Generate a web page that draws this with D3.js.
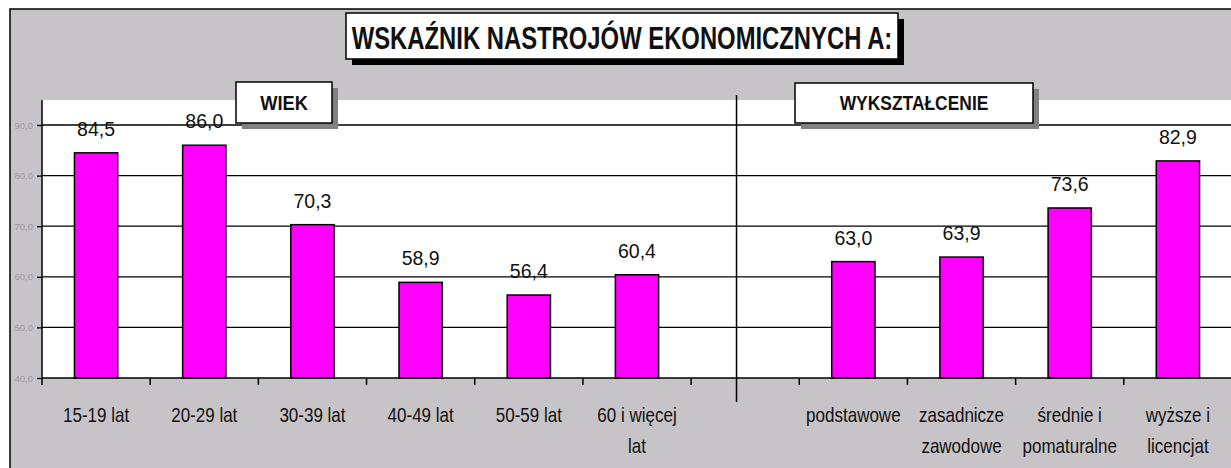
<!DOCTYPE html>
<html>
<head>
<meta charset="utf-8">
<script src="https://cdn.jsdelivr.net/npm/d3@7"></script>
<style>
  html, body { margin: 0; padding: 0; background: #fff; }
  svg { display: block; font-family: 'Liberation Sans', Arial, sans-serif; }
</style>
</head>
<body>
<svg id="chart" width="1231" height="468"></svg>
<script>
// chart data
const title = 'WSKAŹNIK NASTROJÓW EKONOMICZNYCH A:';
const groupTitles = ['WIEK', 'WYKSZTAŁCENIE'];
const ageLabels = [['15-19 lat'], ['20-29 lat'], ['30-39 lat'], ['40-49 lat'], ['50-59 lat'], ['60 i więcej', 'lat']];
const ageValues = [84.5, 86.0, 70.3, 58.9, 56.4, 60.4];
const eduLabels = [['podstawowe'], ['zasadnicze', 'zawodowe'], ['średnie i', 'pomaturalne'], ['wyższe i', 'licencjat']];
const eduValues = [63.0, 63.9, 73.6, 82.9];
const yTicks = [40, 50, 60, 70, 80, 90];

const svg = d3.select('svg#chart');
const fmt = d3.formatLocale({decimal: ',', thousands: ' ', grouping: [3], currency: ['', '']}).format('.1f');

// one band axis: six age groups, an empty gap slot, four education groups
const rows = [];
ageLabels.forEach((l, i) => rows.push({key: 'a' + i, lines: l, value: ageValues[i]}));
rows.push({key: 'gap', lines: [], value: null});
eduLabels.forEach((l, i) => rows.push({key: 'e' + i, lines: l, value: eduValues[i]}));

const plot = {left: 42, right: 1232, top: 100, bottom: 378};

const x = d3.scaleBand()
    .domain(rows.map(d => d.key))
    .range([plot.left, plot.right])
    .paddingInner(0.6)
    .paddingOuter(0.3);
const step = x.step();

const y = d3.scaleLinear()
    .domain([40, 90])
    .range([plot.bottom, 125]);

// outer chart frame
svg.append('rect')
    .attr('x', 10).attr('y', 9)
    .attr('width', 1260).attr('height', 480)
    .attr('fill', '#c6c4c7')
    .attr('stroke', '#000')
    .attr('stroke-width', 1.5);

// plot area
svg.append('rect')
    .attr('x', plot.left).attr('y', plot.top)
    .attr('width', plot.right - plot.left).attr('height', plot.bottom - plot.top)
    .attr('fill', '#fff');

// gridlines + y labels
const yAxis = svg.append('g')
    .attr('transform', `translate(${plot.left},0)`)
    .call(d3.axisLeft(y).tickValues(yTicks).tickSize(5).tickFormat(fmt));
yAxis.select('.domain').remove();
yAxis.selectAll('line').attr('stroke', '#000').attr('stroke-width', 1.3);
yAxis.selectAll('text')
    .attr('fill', '#9a9a9a')
    .attr('font-size', 9.5)
    .attr('x', -9)
    .attr('font-family', "'Liberation Sans', Arial, sans-serif");

svg.append('g')
    .selectAll('line')
    .data(yTicks.filter(t => t > 40))
    .join('line')
    .attr('x1', plot.left).attr('x2', plot.right)
    .attr('y1', d => y(d)).attr('y2', d => y(d))
    .attr('stroke', '#000')
    .attr('stroke-width', 1.3);

// bars
const barRows = rows.filter(d => d.value !== null);
svg.append('g')
    .selectAll('rect')
    .data(barRows)
    .join('rect')
    .attr('x', d => x(d.key))
    .attr('y', d => y(d.value))
    .attr('width', x.bandwidth())
    .attr('height', d => y(40) - y(d.value))
    .attr('fill', '#ff00ff')
    .attr('stroke', '#000')
    .attr('stroke-width', 1.5);

// value labels
svg.append('g')
    .selectAll('text')
    .data(barRows)
    .join('text')
    .attr('x', d => x(d.key) + x.bandwidth() / 2)
    .attr('y', d => y(d.value) - 17)
    .attr('text-anchor', 'middle')
    .attr('font-size', 19.5)
    .attr('fill', '#111')
    .text(d => fmt(d.value));

// x axis line, ticks at slot edges
svg.append('line')
    .attr('x1', plot.left).attr('x2', plot.right)
    .attr('y1', plot.bottom).attr('y2', plot.bottom)
    .attr('stroke', '#000').attr('stroke-width', 1.5);
svg.append('line')
    .attr('x1', plot.left).attr('x2', plot.left)
    .attr('y1', plot.top).attr('y2', plot.bottom + 7)
    .attr('stroke', '#000').attr('stroke-width', 1.5);
svg.append('g')
    .selectAll('line')
    .data(d3.range(1, rows.length))
    .join('line')
    .attr('x1', i => x(rows[i].key) - step * 0.3)
    .attr('x2', i => x(rows[i].key) - step * 0.3)
    .attr('y1', plot.bottom).attr('y2', plot.bottom + 7)
    .attr('stroke', '#000').attr('stroke-width', 1.5);

// divider between the two groups
const gapX = x('gap') - step * 0.3 + step * 0.42;
svg.append('line')
    .attr('x1', gapX).attr('x2', gapX)
    .attr('y1', 95).attr('y2', 402)
    .attr('stroke', '#000').attr('stroke-width', 1.5);

// category labels
const catLabels = svg.append('g')
    .selectAll('g')
    .data(rows)
    .join('g')
    .attr('transform', d => `translate(${x(d.key) + x.bandwidth() / 2},0)`);
catLabels.selectAll('text')
    .data(d => d.lines)
    .join('text')
    .attr('transform', (d, i) => `translate(0,${422 + i * 31}) scale(0.81,1)`)
    .attr('text-anchor', 'middle')
    .attr('font-size', 21)
    .attr('fill', '#111')
    .text(d => d);

// boxed titles
function boxTitle(text, bx, by, bw, bh, shadow, fontSize, sx, baseline) {
  const g = svg.append('g');
  g.append('rect')
      .attr('x', bx + 6).attr('y', by + 6)
      .attr('width', bw).attr('height', bh)
      .attr('fill', shadow);
  g.append('rect')
      .attr('x', bx).attr('y', by)
      .attr('width', bw).attr('height', bh)
      .attr('fill', '#fff')
      .attr('stroke', '#000')
      .attr('stroke-width', 1.5);
  g.append('text')
      .attr('transform', `translate(${bx + bw / 2},${baseline}) scale(${sx},1)`)
      .attr('text-anchor', 'middle')
      .attr('font-size', fontSize)
      .attr('font-weight', 'bold')
      .attr('fill', '#111')
      .text(text);
}

boxTitle(title, 346, 13, 552, 46, '#000', 32, 0.745, 49);
boxTitle(groupTitles[0], 236, 82, 96, 41, '#808080', 21, 0.87, 110);
boxTitle(groupTitles[1], 795, 83, 238, 40, '#808080', 21, 0.83, 110);
</script>
</body>
</html>
